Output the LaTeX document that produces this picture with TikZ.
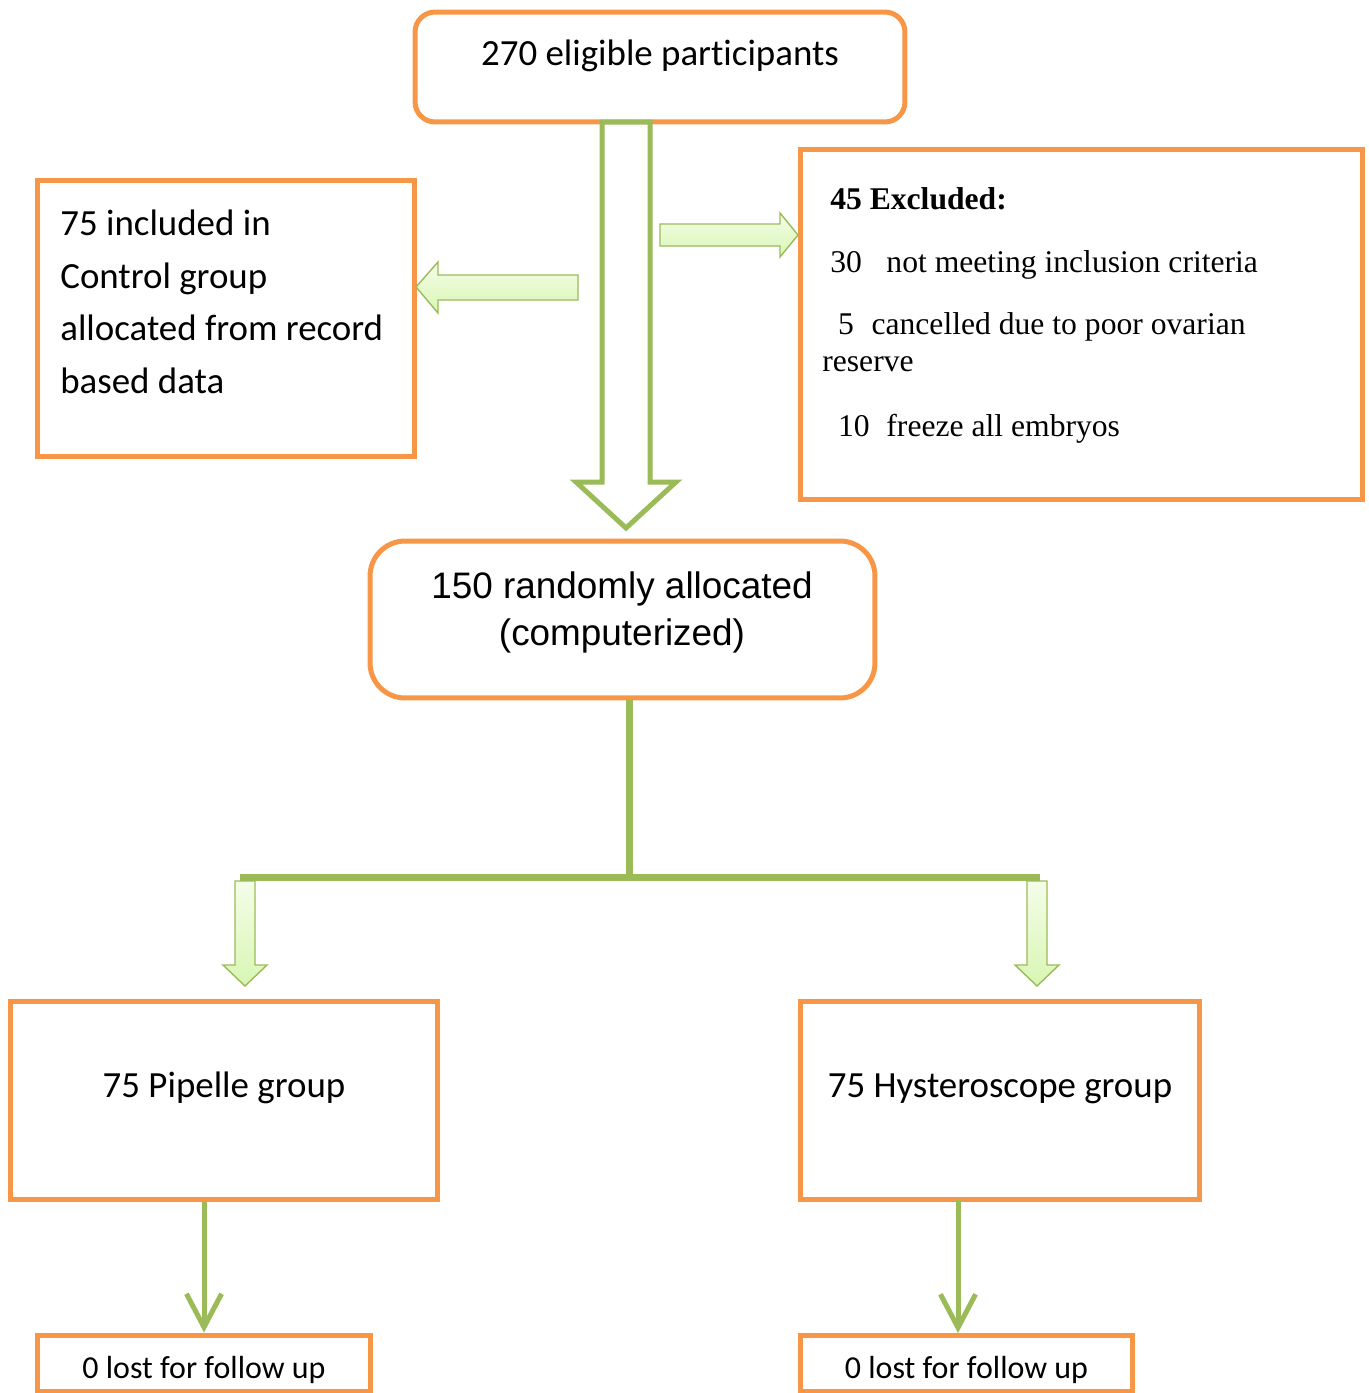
\documentclass[tikz,border=0pt]{standalone}
\usepackage{fontspec}
\usepackage{xcolor}
\usetikzlibrary{arrows.meta}
\setmainfont{Carlito}
\newfontfamily\timesfont{Liberation Serif}
\newfontfamily\arialfont{Liberation Sans}
\definecolor{boxorange}{RGB}{247,150,70}
\definecolor{arrowgreen}{RGB}{155,187,89}
\definecolor{paletop}{RGB}{244,253,232}
\definecolor{palebottom}{RGB}{216,246,180}

\begin{document}
\begin{tikzpicture}[x=0.02cm, y=-0.02cm,
    box/.style={draw=boxorange, line width=0.1cm},
    roundbox/.style={box, rounded corners=0.4cm},
    txt/.style={inner sep=0pt},
    blockarrow/.style={draw=arrowgreen, line width=0.8pt, top color=paletop, bottom color=palebottom, line join=miter},
    hollowarrow/.style={draw=arrowgreen, line width=0.1cm, fill=white, line join=miter},
    link/.style={draw=arrowgreen, line width=0.14cm},
    thinarrow/.style={draw=arrowgreen, line width=0.1cm, -{Straight Barb[length=19pt, width=20pt]}}]
      \useasboundingbox (0,0) rectangle (1369,1393);

      % boxes
      \node[roundbox, minimum width=9.8cm, minimum height=2.2cm] (eligible) at (660,67) {};
      \node[box, minimum width=7.56cm, minimum height=5.54cm] (control) at (226,318.5) {};
      \node[box, minimum width=11.26cm, minimum height=7.02cm] (excluded) at (1081.5,324.5) {};
      \node[roundbox, rounded corners=0.7cm, minimum width=10.1cm, minimum height=3.14cm] (random) at (622.5,619.5) {};
      \node[box, minimum width=8.56cm, minimum height=3.98cm] (pipelle) at (224,1100.5) {};
      \node[box, minimum width=8cm, minimum height=3.98cm] (hystero) at (1000,1100.5) {};
      \node[box, minimum width=6.68cm, minimum height=1.12cm] (lostpip) at (204,1363) {};
      \node[box, minimum width=6.66cm, minimum height=1.12cm] (losthys) at (966.5,1363) {};

      % texts
      \node[txt, anchor=base, font=\fontsize{21}{25}\selectfont] (eligibletxt) at (660,65) {270 eligible part\kern0pt icipants};
      \node[txt, anchor=north west, align=left, font=\fontsize{21}{29.8}\selectfont] (controltxt) at (60,210) {75 included in\\Control group\\allocated from record\\based data};
      \node[txt, anchor=north west, align=left, font=\timesfont\fontsize{18}{21}\selectfont] (excludedtxt) at (822,187) {\hspace*{4.5pt}\textbf{45 Excluded:}\\[14.7pt]
        \hspace*{4.5pt}30\hspace{14pt}not meeting inclusion criteria\\[14.7pt]
        \hspace*{9pt}5\hspace{10pt}cancelled due to poor ovarian\\
        reserve\\[16pt]
        \hspace*{9pt}10\hspace{9.5pt}freeze all embryos};
      \node[txt, anchor=north, align=center, font=\arialfont\fontsize{21}{27}\selectfont] (randomtxt) at (622,571) {150 randomly allocated\\(computerized)};
      \node[txt, anchor=base, font=\fontsize{21}{25}\selectfont] (pipelletxt) at (224,1097) {75 Pipelle group};
      \node[txt, anchor=base, font=\fontsize{21}{25}\selectfont] (hysterotxt) at (1000,1097) {75 Hysteroscope group};
      \node[txt, anchor=base, font=\fontsize{18.2}{21}\selectfont] (lostpiptxt) at (204,1378) {0 lost for follow up};
      \node[txt, anchor=base, font=\fontsize{18.2}{21}\selectfont] (losthystxt) at (966.5,1378) {0 lost for follow up};

      % block arrows
      \draw[hollowarrow] (602,122) -- (602,482) -- (576,482) -- (626,528) -- (676,482) -- (650,482) -- (650,122) -- cycle;
      \draw[blockarrow] (578,275) -- (438,275) -- (438,262) -- (416,287) -- (438,313) -- (438,300) -- (578,300) -- cycle;
      \draw[blockarrow] (660,224) -- (780,224) -- (780,213) -- (798,235) -- (780,257) -- (780,246) -- (660,246) -- cycle;

      % split below randomisation
      \coordinate (split) at (629,877);
      \coordinate (splitleft) at (240,877);
      \coordinate (splitright) at (1040,877);
      \draw[link] (random.south -| split) -- (split);
      \draw[link] (splitleft) -- (splitright);
      \foreach \ax in {245,1037}
        \draw[blockarrow] (\ax-10,881) -- (\ax-10,965) -- (\ax-22,965) -- (\ax,986) -- (\ax+22,965) -- (\ax+10,965) -- (\ax+10,881) -- cycle;

      \draw[thinarrow] (lostpip.north |- pipelle.south) -- (lostpip.north);
      \draw[thinarrow] (958,1200) -- (958,1333);
    \end{tikzpicture}
\end{document}
